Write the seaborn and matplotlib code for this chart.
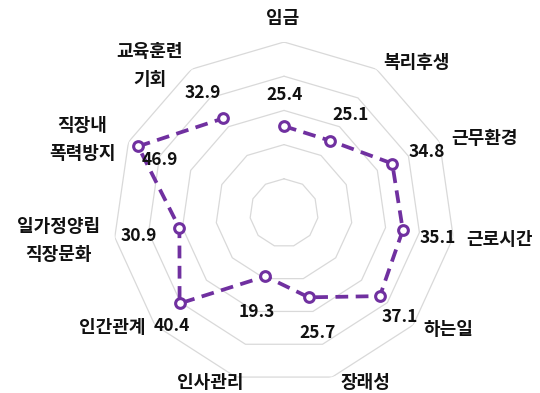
"""Radar chart of job satisfaction items (Korean labels)."""

import matplotlib

matplotlib.use("Agg")
import matplotlib.pyplot as plt
import numpy as np
import pandas as pd
import seaborn as sns

categories = [
    "임금",
    "복리후생",
    "근무환경",
    "근로시간",
    "하는일",
    "장래성",
    "인사관리",
    "인간관계",
    "일가정양립\n직장문화",
    "직장내\n폭력방지",
    "교육훈련\n기회",
]
values = [25.4, 25.1, 34.8, 35.1, 37.1, 25.7, 19.3, 40.4, 30.9, 46.9, 32.9]
ring_levels = [10, 20, 30, 40, 50]

PURPLE = "#7030A0"
GRID = "#D9D9D9"

# label offsets in pixels (from the outer vertex / from the data point)
cat_offsets = [(-1, 24), (40, 7), (45, 3), (46, -2), (35, -5), (33, -5),
               (-26, -5), (-43, -3), (-56, -3), (-46, 2), (-42, 4)]
val_offsets = [(1, 31), (20, 26), (35, 12), (35, -8), (20, -21), (9, -36),
               (-9, -36), (-8, -23), (-41, -8), (22, -14), (-20, 25)]

sns.set_theme(style="white")
plt.rcParams["font.family"] = ["Noto Sans CJK KR", "DejaVu Sans"]

n = len(categories)
theta = np.arange(n) * 2 * np.pi / n
df = pd.DataFrame({"theta": np.append(theta, theta[0]),
                   "value": np.append(values, values[0])})

fig = plt.figure(figsize=(5.4, 3.93), dpi=100)
ax = fig.add_axes([0.2093, 0.0229, 0.6333, 0.8702], projection="polar")
ax.set_theta_zero_location("N")
ax.set_theta_direction(-1)
ax.set_ylim(0, ring_levels[-1])
ax.grid(False)
ax.spines["polar"].set_visible(False)
ax.set_xticks([])
ax.set_yticks([])
ax.set_facecolor("white")

ring_theta = np.append(theta, theta[0])
for lvl in ring_levels:
    ax.plot(ring_theta, np.full(n + 1, lvl), color=GRID, linewidth=0.9, zorder=1)

sns.lineplot(
    data=df, x="theta", y="value", sort=False, ax=ax,
    color=PURPLE, linewidth=2.7, linestyle=(0, (3.4, 2.0)),
    marker="o", markersize=7, markerfacecolor="white",
    markeredgecolor=PURPLE, markeredgewidth=2.2, zorder=3,
)
ax.set_xlabel("")
ax.set_ylabel("")

for i in range(n):
    ax.annotate(categories[i], (theta[i], ring_levels[-1]),
                xytext=cat_offsets[i], textcoords="offset pixels",
                ha="center", va="center", fontsize=13, fontweight="bold",
                linespacing=1.6, color="#111111", annotation_clip=False)
    ax.annotate(f"{values[i]:.1f}", (theta[i], values[i]),
                xytext=val_offsets[i], textcoords="offset pixels",
                ha="center", va="center", fontsize=12.5, fontweight="bold",
                color="#111111", annotation_clip=False)

fig.savefig("out.png", dpi=100)
